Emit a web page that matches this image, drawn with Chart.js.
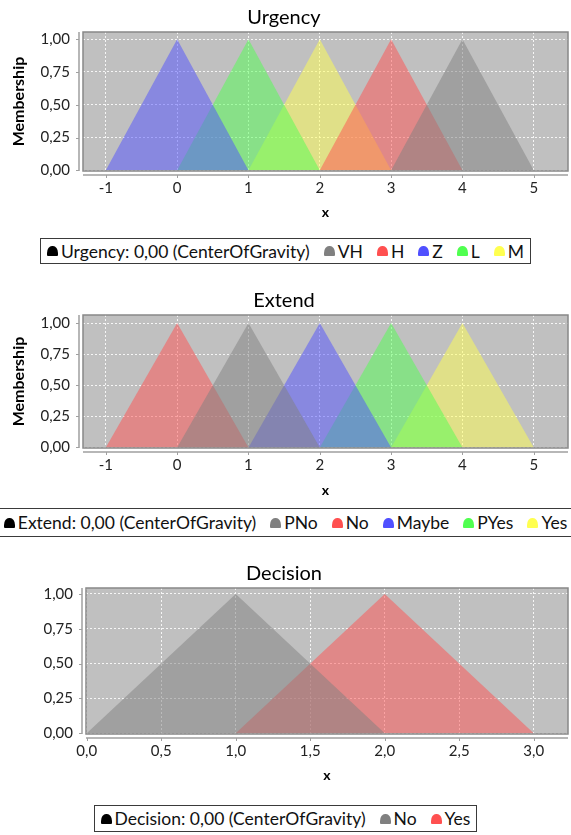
<!DOCTYPE html>
<html>
<head>
<meta charset="utf-8">
<script src="https://cdn.jsdelivr.net/npm/chart.js@4.4.1/dist/chart.umd.min.js"></script>
<style>
  html, body { margin: 0; padding: 0; background: #fff; }
  body { width: 571px; height: 835px; position: relative; overflow: hidden; font-family: Lato, sans-serif; }
  .block { position: absolute; left: 0; width: 571px; }
  .legend-row { position: absolute; left: 0; width: 571px; display: flex; justify-content: center; }
  .legend { display: flex; align-items: center; justify-content: center; border: 1.5px solid #3a3a3a; padding: 0 6px; white-space: nowrap; font-size: 17.5px; color: #111; box-sizing: border-box; }
  .legend .item { display: flex; align-items: center; margin-left: 14px; }
  .legend .item:first-child { margin-left: 0; }
  .legend .icon { width: 11px; height: 10px; border-radius: 5px 5px 1px 1px / 7px 7px 1px 1px; margin-right: 3px; }
</style>
</head>
<body>
  <div class="block" style="top:0;height:225px"><canvas id="urgencyChart"></canvas></div>
  <div class="legend-row" style="top:238px"><div class="legend" id="urgencyLegend" style="height:26px"></div></div>

  <div class="block" style="top:283px;height:220px"><canvas id="extendChart"></canvas></div>
  <div class="legend-row" style="top:508px"><div class="legend" id="extendLegend" style="height:29px;min-width:590px"></div></div>

  <div class="block" style="top:556px;height:232px"><canvas id="decisionChart"></canvas></div>
  <div class="legend-row" style="top:805px"><div class="legend" id="decisionLegend" style="height:27px"></div></div>

<script>
// data: each term is a triangle (x points + membership)
const urgencyTerms = ['VH', 'H', 'Z', 'L', 'M'];
const urgencyX = [[3, 4, 5], [2, 3, 4], [-1, 0, 1], [0, 1, 2], [1, 2, 3]];
const urgencyY = [[0, 1, 0], [0, 1, 0], [0, 1, 0], [0, 1, 0], [0, 1, 0]];

const extendTerms = ['PNo', 'No', 'Maybe', 'PYes', 'Yes'];
const extendX = [[0, 1, 2], [-1, 0, 1], [1, 2, 3], [2, 3, 4], [3, 4, 5]];
const extendY = [[0, 1, 0], [0, 1, 0], [0, 1, 0], [0, 1, 0], [0, 1, 0]];

const decisionTerms = ['No', 'Yes'];
const decisionX = [[0, 1, 2], [1, 2, 3]];
const decisionY = [[0, 1, 0], [0, 1, 0]];

const defuzzLabels = ['Urgency: 0,00 (CenterOfGravity)', 'Extend: 0,00 (CenterOfGravity)', 'Decision: 0,00 (CenterOfGravity)'];

// ticks
const xTicksInt = [-1, 0, 1, 2, 3, 4, 5];
const xTickLabelsInt = ['-1', '0', '1', '2', '3', '4', '5'];
const xTicksDecision = [0, 0.5, 1, 1.5, 2, 2.5, 3];
const xTickLabelsDecision = ['0,0', '0,5', '1,0', '1,5', '2,0', '2,5', '3,0'];
const yTicks = [0, 0.25, 0.5, 0.75, 1];
const yTickLabels = ['0,00', '0,25', '0,50', '0,75', '1,00'];

document.addEventListener('DOMContentLoaded', function () {

  const termColors = {
    VH: '#808080', H: '#ff5050', Z: '#5050ff', L: '#50ff50', M: '#ffff50',
    PNo: '#808080', No: '#ff5050', Maybe: '#5050ff', PYes: '#50ff50', Yes: '#ffff50'
  };
  const decisionColors = { No: '#808080', Yes: '#ff5050' };

  Chart.defaults.font.family = 'Lato';
  Chart.defaults.color = '#222';

//========================
// plot frame (grey bg, border, offset axis lines + tick marks)
//========================
  const plotFrame = {
    id: 'plotFrame',
    beforeDraw(chart) {
      const { ctx, chartArea: a } = chart;
      ctx.save();
      ctx.fillStyle = '#c0c0c0';
      ctx.fillRect(a.left, a.top, a.width, a.height);
      ctx.restore();
    },
    afterDatasetsDraw(chart) {
      const { ctx, chartArea: a } = chart;
      const xs = chart.scales.x, ys = chart.scales.y;
      ctx.save();
      ctx.strokeStyle = '#888';
      ctx.lineWidth = 1.5;
      ctx.strokeRect(a.left, a.top, a.width, a.height);

      ctx.strokeStyle = '#a0a0a0';
      ctx.lineWidth = 1.5;
      ctx.beginPath();
      ctx.moveTo(a.left - 4, a.top);
      ctx.lineTo(a.left - 4, a.bottom);
      ctx.moveTo(a.left, a.bottom + 4);
      ctx.lineTo(a.right, a.bottom + 4);
      ctx.stroke();

      ctx.lineWidth = 1;
      ctx.beginPath();
      xs.ticks.forEach(t => {
        const px = Math.round(xs.getPixelForValue(t.value)) + 0.5;
        ctx.moveTo(px, a.bottom + 4);
        ctx.lineTo(px, a.bottom + 7);
      });
      ys.ticks.forEach(t => {
        const py = Math.round(ys.getPixelForValue(t.value)) + 0.5;
        ctx.moveTo(a.left - 4, py);
        ctx.lineTo(a.left - 7, py);
      });
      ctx.stroke();
      ctx.restore();
    }
  };

  function buildDatasets(terms, xs, ys, colors) {
    return terms.map((term, i) => ({
      label: term,
      data: xs[i].map((x, j) => ({ x: x, y: ys[i][j] })),
      backgroundColor: colors[term] + '80',
      borderWidth: 0,
      pointRadius: 0,
      fill: 'origin',
      tension: 0
    }));
  }

  function makeChart(id, title, datasets, cfg) {
    const ctx = document.getElementById(id).getContext('2d');
    return new Chart(ctx, {
      type: 'line',
      data: { datasets: datasets },
      plugins: [plotFrame],
      options: {
        responsive: true,
        maintainAspectRatio: false,
        animation: false,
        layout: { padding: { right: 3 } },
        plugins: {
          legend: { display: false },
          tooltip: { enabled: false },
          title: {
            display: true,
            text: title,
            color: '#000',
            font: { size: 20, weight: 'normal' },
            padding: { top: 6, bottom: 2 }
          }
        },
        scales: {
          x: {
            type: 'linear',
            min: cfg.xMin,
            max: cfg.xMax,
            afterFit: s => { s.height = cfg.xAxisHeight; },
            afterBuildTicks: s => { s.ticks = cfg.xTicks.map(v => ({ value: v })); },
            ticks: {
              padding: 8,
              font: { size: 15 },
              color: '#222',
              maxRotation: 0,
              callback: (v) => cfg.xLabels[cfg.xTicks.indexOf(v)]
            },
            grid: { color: 'rgba(255,255,255,0.85)', lineWidth: 1, drawTicks: false },
            border: { display: false, dash: [2, 2] },
            title: { display: true, text: 'x', color: '#000', font: { size: 14, weight: 'bold' }, padding: { bottom: 4 } }
          },
          y: {
            min: cfg.yMin,
            max: cfg.yMax,
            afterFit: s => { s.width = cfg.yAxisWidth; },
            afterBuildTicks: s => { s.ticks = yTicks.map(v => ({ value: v })); },
            ticks: {
              padding: 13,
              font: { size: 15 },
              color: '#222',
              callback: (v) => yTickLabels[yTicks.indexOf(v)]
            },
            grid: { color: 'rgba(255,255,255,0.85)', lineWidth: 1, drawTicks: false },
            border: { display: false, dash: [2, 2] },
            title: cfg.yTitle
              ? { display: true, text: 'Membership', color: '#000', font: { size: 16, weight: 'bold' }, padding: { top: 9 } }
              : { display: false }
          }
        }
      }
    });
  }

  function buildLegend(id, headLabel, terms, colors) {
    const box = document.getElementById(id);
    const items = [{ label: headLabel, color: '#000' }].concat(terms.map(t => ({ label: t, color: colors[t] })));
    items.forEach(it => {
      const span = document.createElement('span');
      span.className = 'item';
      span.innerHTML = `<span class="icon" style="background:${it.color}"></span><span>${it.label}</span>`;
      box.appendChild(span);
    });
  }

//========================
// Urgency
//========================
  makeChart('urgencyChart', 'Urgency', buildDatasets(urgencyTerms, urgencyX, urgencyY, termColors), {
    xMin: -1.32, xMax: 5.48, xTicks: xTicksInt, xLabels: xTickLabelsInt,
    yMin: -0.005, yMax: 1.055, xAxisHeight: 54, yAxisWidth: 83, yTitle: true
  });
  buildLegend('urgencyLegend', defuzzLabels[0], urgencyTerms, termColors);

//========================
// Extend
//========================
  makeChart('extendChart', 'Extend', buildDatasets(extendTerms, extendX, extendY, termColors), {
    xMin: -1.32, xMax: 5.48, xTicks: xTicksInt, xLabels: xTickLabelsInt,
    yMin: -0.005, yMax: 1.065, xAxisHeight: 55, yAxisWidth: 83, yTitle: true
  });
  buildLegend('extendLegend', defuzzLabels[1], extendTerms, termColors);

//========================
// Decision
//========================
  makeChart('decisionChart', 'Decision', buildDatasets(decisionTerms, decisionX, decisionY, decisionColors), {
    xMin: -0.005, xMax: 3.23, xTicks: xTicksDecision, xLabels: xTickLabelsDecision,
    yMin: -0.005, yMax: 1.043, xAxisHeight: 54, yAxisWidth: 86, yTitle: false
  });
  buildLegend('decisionLegend', defuzzLabels[2], decisionTerms, decisionColors);
});
</script>
</body>
</html>
